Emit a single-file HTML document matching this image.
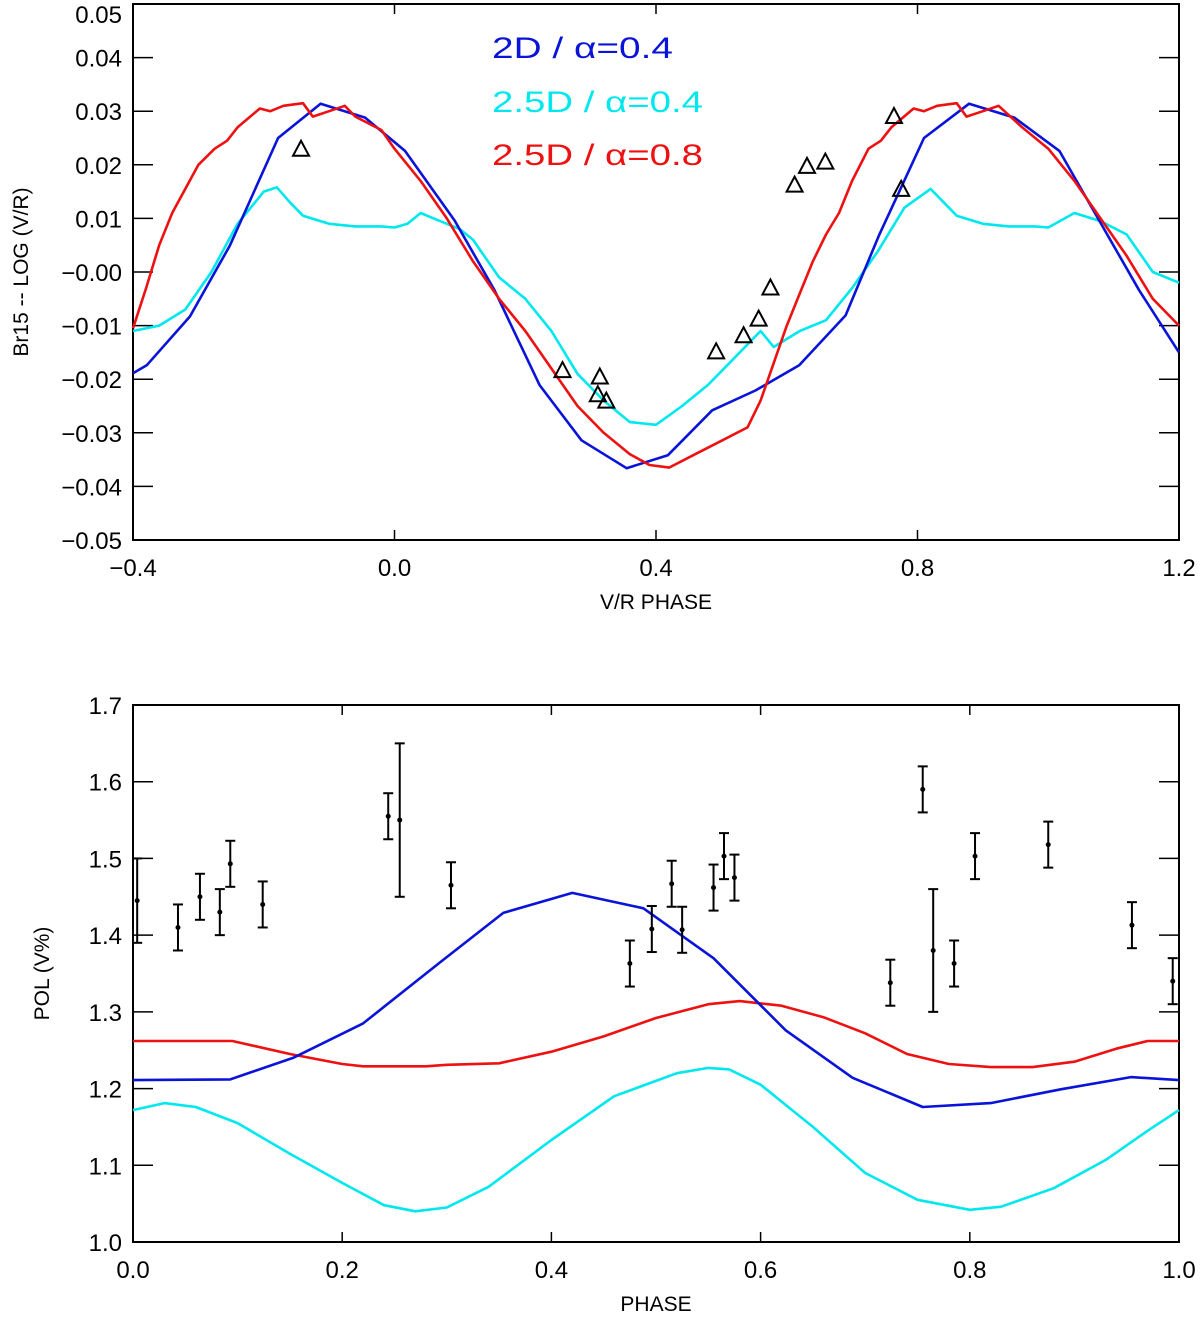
<!DOCTYPE html>
<html><head><meta charset="utf-8"><style>
html,body{margin:0;padding:0;background:#fff}
svg{display:block;font-family:"Liberation Sans",sans-serif}
</style></head><body>
<svg id="c" width="1200" height="1318" viewBox="0 0 1200 1318" xmlns="http://www.w3.org/2000/svg"></svg>
<script>
// ---- Top panel data ----
const topBlueX=[-0.4,-0.379,-0.313,-0.252,-0.178,-0.113,-0.045,0.016,0.092,0.153,0.222,0.286,0.355,0.418,0.486,0.552,0.619,0.690,0.741,0.810,0.879,0.948,1.017,1.078,1.139,1.2];
const topBlueY=[-0.0189,-0.0174,-0.0083,0.0049,0.025,0.0314,0.0288,0.0226,0.0096,-0.0034,-0.0211,-0.0314,-0.0366,-0.0342,-0.0258,-0.0221,-0.0174,-0.0081,0.0068,0.025,0.0314,0.0288,0.0226,0.0096,-0.0034,-0.0150];
const topRedX=[-0.4,-0.38,-0.36,-0.34,-0.32,-0.30,-0.275,-0.256,-0.24,-0.206,-0.19,-0.17,-0.14,-0.125,-0.10,-0.076,-0.06,-0.02,0.0,0.04,0.08,0.12,0.16,0.20,0.24,0.28,0.32,0.36,0.39,0.42,0.46,0.50,0.54,0.56,0.58,0.60,0.62,0.64,0.66,0.68,0.70,0.725,0.744,0.76,0.794,0.81,0.83,0.86,0.875,0.90,0.924,0.96,1.00,1.04,1.08,1.12,1.16,1.20];
const topRedY=[-0.0105,-0.003,0.005,0.011,0.0155,0.020,0.023,0.0245,0.027,0.0305,0.030,0.031,0.0315,0.029,0.030,0.031,0.029,0.0265,0.023,0.017,0.010,0.002,-0.005,-0.011,-0.018,-0.025,-0.030,-0.034,-0.036,-0.0365,-0.034,-0.0315,-0.029,-0.024,-0.017,-0.010,-0.004,0.002,0.007,0.011,0.017,0.023,0.0245,0.027,0.0305,0.030,0.031,0.0315,0.029,0.030,0.031,0.027,0.023,0.017,0.010,0.003,-0.005,-0.010];
const topCyanX=[-0.4,-0.36,-0.32,-0.28,-0.24,-0.20,-0.18,-0.16,-0.14,-0.10,-0.06,-0.02,0.0,0.02,0.04,0.06,0.08,0.10,0.12,0.16,0.20,0.24,0.28,0.32,0.36,0.40,0.44,0.48,0.52,0.56,0.58,0.62,0.66,0.70,0.74,0.78,0.82,0.84,0.86,0.90,0.94,0.98,1.0,1.04,1.08,1.12,1.16,1.20];
const topCyanY=[-0.011,-0.010,-0.007,0.000,0.009,0.015,0.0158,0.013,0.0105,0.009,0.0085,0.0085,0.0083,0.009,0.011,0.010,0.009,0.008,0.006,-0.001,-0.005,-0.011,-0.019,-0.024,-0.028,-0.0285,-0.025,-0.021,-0.016,-0.011,-0.014,-0.011,-0.009,-0.003,0.004,0.012,0.0155,0.013,0.0105,0.009,0.0085,0.0085,0.0083,0.011,0.0095,0.007,0.000,-0.002];
const triX=[-0.143,0.257,0.314,0.311,0.324,0.492,0.534,0.557,0.575,0.612,0.631,0.659,0.764,0.775];
const triY=[0.023,-0.0183,-0.0195,-0.0228,-0.0240,-0.0148,-0.0118,-0.0087,-0.0029,0.0163,0.0198,0.0206,0.0291,0.0155];
const topXTicks=[-0.4,0.0,0.4,0.8,1.2];
const topXLabels=["\u22120.4","0.0","0.4","0.8","1.2"];
const topYTicks=[0.05,0.04,0.03,0.02,0.01,0.0,-0.01,-0.02,-0.03,-0.04,-0.05];
const topYLabels=["0.05","0.04","0.03","0.02","0.01","\u22120.00","\u22120.01","\u22120.02","\u22120.03","\u22120.04","\u22120.05"];
// ---- Bottom panel data ----
const botBlueX=[0,0.093,0.153,0.22,0.294,0.354,0.42,0.488,0.555,0.624,0.688,0.755,0.82,0.887,0.954,1.0];
const botBlueY=[1.211,1.212,1.240,1.285,1.365,1.429,1.455,1.435,1.370,1.276,1.214,1.176,1.181,1.199,1.215,1.211];
const botRedX=[0,0.095,0.15,0.2,0.22,0.28,0.3,0.35,0.4,0.45,0.5,0.55,0.58,0.62,0.66,0.7,0.74,0.78,0.82,0.86,0.9,0.94,0.97,1.0];
const botRedY=[1.262,1.262,1.245,1.232,1.229,1.229,1.231,1.233,1.248,1.268,1.292,1.310,1.314,1.308,1.293,1.272,1.245,1.232,1.228,1.228,1.235,1.252,1.262,1.262];
const botCyanX=[0,0.03,0.06,0.1,0.15,0.2,0.24,0.27,0.3,0.34,0.4,0.46,0.52,0.55,0.57,0.6,0.65,0.7,0.75,0.8,0.83,0.88,0.93,0.97,1.0];
const botCyanY=[1.172,1.181,1.176,1.155,1.115,1.077,1.048,1.040,1.045,1.072,1.133,1.190,1.220,1.227,1.225,1.205,1.150,1.090,1.055,1.042,1.046,1.070,1.107,1.145,1.172];
const errX=[0.004,0.043,0.064,0.083,0.093,0.124,0.244,0.255,0.304,0.475,0.496,0.515,0.525,0.555,0.565,0.575,0.724,0.755,0.765,0.785,0.805,0.875,0.955,0.994];
const errY=[1.445,1.41,1.45,1.43,1.493,1.44,1.555,1.55,1.465,1.363,1.408,1.467,1.407,1.462,1.503,1.475,1.338,1.59,1.38,1.363,1.503,1.518,1.413,1.340];
const errE=[0.055,0.03,0.03,0.03,0.03,0.03,0.03,0.1,0.03,0.03,0.03,0.03,0.03,0.03,0.03,0.03,0.03,0.03,0.08,0.03,0.03,0.03,0.03,0.03];
const botXTicks=[0,0.2,0.4,0.6,0.8,1.0];
const botXLabels=["0.0","0.2","0.4","0.6","0.8","1.0"];
const botYTicks=[1.0,1.1,1.2,1.3,1.4,1.5,1.6,1.7];
const botYLabels=["1.0","1.1","1.2","1.3","1.4","1.5","1.6","1.7"];

const NS="http://www.w3.org/2000/svg";
const svg=document.getElementById('c');
function mk(tag,attrs,parent){const e=document.createElementNS(NS,tag);for(const k in attrs)e.setAttribute(k,attrs[k]);(parent||svg).appendChild(e);return e;}
function lin(d0,d1,r0,r1){return v=>r0+(v-d0)*(r1-r0)/(d1-d0);}

const L=133,R=1179;
const tx=lin(-0.4,1.2,L,R), ty=lin(0.05,-0.05,4,540);
const bx=lin(0,1,L,R), by=lin(1.7,1.0,705,1242);

function panel(name,xs,ys,T,B,xT,xL,yT,yL,xTitle,yTitle,yTitleX){
  const g=mk('g',{});
  
  
  const box=mk('rect',{x:L,y:T,width:R-L,height:B-T,fill:'none',stroke:'#000','stroke-width':2},g);
  
  
  xT.forEach((v,i)=>{
    const x=xs(v);
    mk('line',{x1:x,x2:x,y1:B,y2:B-10,stroke:'#000','stroke-width':1.5},g);
    mk('line',{x1:x,x2:x,y1:T,y2:T+10,stroke:'#000','stroke-width':1.5},g);
    const t=mk('text',{x:x,y:B+36,'font-size':24,'text-anchor':'middle'},g);
    t.textContent=xL[i];
    
    
  });
  yT.forEach((v,i)=>{
    const y=ys(v);
    mk('line',{x1:L,x2:L+20,y1:y,y2:y,stroke:'#000','stroke-width':1.5},g);
    mk('line',{x1:R,x2:R-20,y1:y,y2:y,stroke:'#000','stroke-width':1.5},g);
    const t=mk('text',{x:L-11,y:Math.max(y+9,23),'font-size':24,'text-anchor':'end'},g);
    t.textContent=yL[i];
    
    
  });
  const xt=mk('text',{x:(L+R)/2,y:B+69,'font-size':21,'text-anchor':'middle'},g);
  xt.textContent=xTitle;
  
  
  const cy=(T+B)/2;
  const yt=mk('text',{x:yTitleX,y:cy,'font-size':21,'text-anchor':'middle',transform:`rotate(-90 ${yTitleX} ${cy})`},g);
  yt.textContent=yTitle;
  
  
}
function line(xs,ys,X,Y,color,name){
  const d=X.map((v,i)=>(i?'L':'M')+xs(v).toFixed(1)+' '+ys(Y[i]).toFixed(1)).join(' ');
  const p=mk('path',{d:d,fill:'none',stroke:color,'stroke-width':2.6,'stroke-linejoin':'round'});
  
  
}

panel('top',tx,ty,4,540,topXTicks,topXLabels,topYTicks,topYLabels,'V/R PHASE','Br15 -- LOG (V/R)',28);
panel('bottom',bx,by,705,1242,botXTicks,botXLabels,botYTicks,botYLabels,'PHASE','POL (V%)',49);

line(tx,ty,topCyanX,topCyanY,'#00e8ee','top-line-2.5d-alpha0.4');
line(tx,ty,topBlueX,topBlueY,'#0a14d8','top-line-2d-alpha0.4');
line(tx,ty,topRedX,topRedY,'#ee1111','top-line-2.5d-alpha0.8');

triX.forEach((v,i)=>{
  const x=tx(v),y=ty(triY[i]);
  const p=mk('polygon',{points:`${x-8},${y+7} ${x+8},${y+7} ${x},${y-8}`,fill:'none',stroke:'#000','stroke-width':2});
  
  
});

const leg=[["2D  /  \u03b1=0.4",'#0a14d8',58,181],["2.5D  /  \u03b1=0.4",'#00e8ee',112,211],["2.5D  /  \u03b1=0.8",'#ee1111',165,211]];
leg.forEach((l,i)=>{
  const t=mk('text',{x:492,y:l[2],'font-size':30,fill:l[1],textLength:l[3],lengthAdjust:'spacingAndGlyphs'});
  t.textContent=l[0];
  
  
});

line(bx,by,botCyanX,botCyanY,'#00e8ee','bottom-line-2.5d-alpha0.4');
line(bx,by,botRedX,botRedY,'#ee1111','bottom-line-2.5d-alpha0.8');
line(bx,by,botBlueX,botBlueY,'#0a14d8','bottom-line-2d-alpha0.4');

errX.forEach((v,i)=>{
  const x=bx(v),y1=by(errY[i]+errE[i]),y2=by(errY[i]-errE[i]),y=by(errY[i]);
  const g=mk('g',{stroke:'#000','stroke-width':2});
  
  
  mk('line',{x1:x,x2:x,y1:y1,y2:y2},g);
  mk('line',{x1:x-5,x2:x+5,y1:y1,y2:y1},g);
  mk('line',{x1:x-5,x2:x+5,y1:y2,y2:y2},g);
  mk('circle',{cx:x,cy:y,r:1.5,fill:'#000'},g);
});
</script>
</body></html>
